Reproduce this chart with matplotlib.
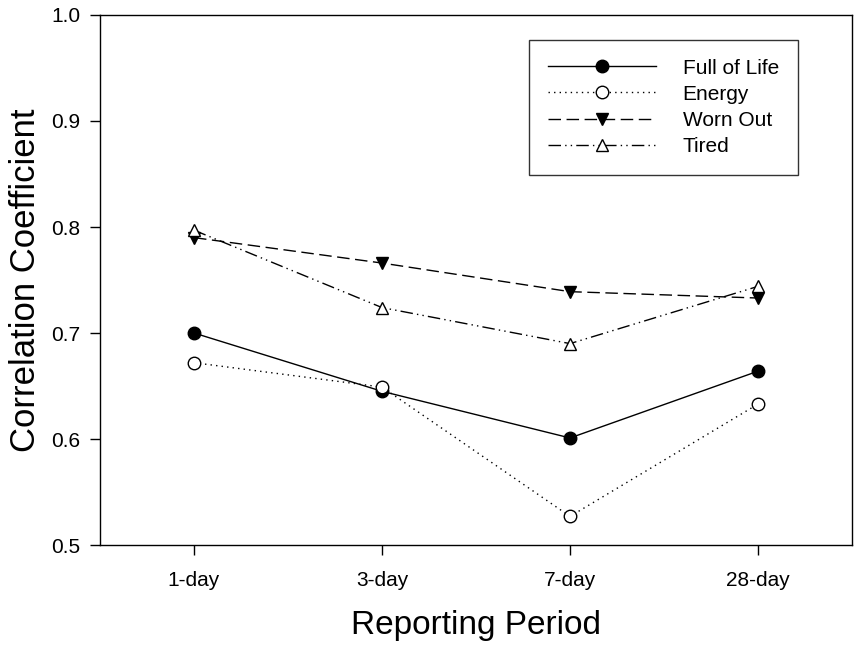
import matplotlib
matplotlib.use('Agg')
import matplotlib.pyplot as plt
import numpy as np

plt.rcParams['font.family'] = ['Liberation Sans', 'DejaVu Sans']

# data
periods = ['1-day', '3-day', '7-day', '28-day']
full_of_life = [0.700, 0.645, 0.601, 0.664]
energy = [0.672, 0.649, 0.527, 0.633]
worn_out = [0.790, 0.766, 0.739, 0.733]
tired = [0.797, 0.724, 0.690, 0.744]

x = np.arange(len(periods))

fig = plt.figure(figsize=(8.65, 6.46), dpi=100)
ax = fig.add_axes([0.1156, 0.1563, 0.8694, 0.8205])

lw = 1.0
ms = 9
ax.plot(x, full_of_life, color='black', lw=lw, ls='-', marker='o',
        ms=ms, mfc='black', mec='black', label='Full of Life')
ax.plot(x, energy, color='black', lw=lw, ls=(0, (1, 3)), marker='o',
        ms=ms, mfc='white', mec='black', label='Energy')
ax.plot(x, worn_out, color='black', lw=lw, ls=(0, (9, 4)), marker='v',
        ms=ms, mfc='black', mec='black', label='Worn Out')
ax.plot(x, tired, color='black', lw=lw, ls=(0, (9, 3, 1, 3, 1, 3)), marker='^',
        ms=ms, mfc='white', mec='black', label='Tired')

ax.set_xlim(-0.5, 3.5)
ax.set_ylim(0.5, 1.0)
ax.set_xticks(x)
ax.set_xticklabels(periods)
ax.set_yticks(np.arange(0.5, 1.01, 0.1))
ax.set_yticklabels(['%.1f' % v for v in np.arange(0.5, 1.01, 0.1)])
ax.tick_params(direction='out', length=7, width=1, labelsize=15, pad=7)
ax.tick_params(axis='x', pad=12)

for s in ax.spines.values():
    s.set_linewidth(1.0)

ax.set_xlabel('Reporting Period', fontsize=24, labelpad=14)
ax.set_ylabel('Correlation Coefficient', fontsize=25, labelpad=7)

leg = ax.legend(loc='upper left', bbox_to_anchor=(0.571, 0.953), fontsize=15,
                handlelength=5.2, handletextpad=1.25, labelspacing=0.34,
                borderpad=0.9, borderaxespad=0, fancybox=False, frameon=True)
leg.get_frame().set_edgecolor('black')
leg.get_frame().set_linewidth(1.0)

fig.savefig('out.png', dpi=100)
